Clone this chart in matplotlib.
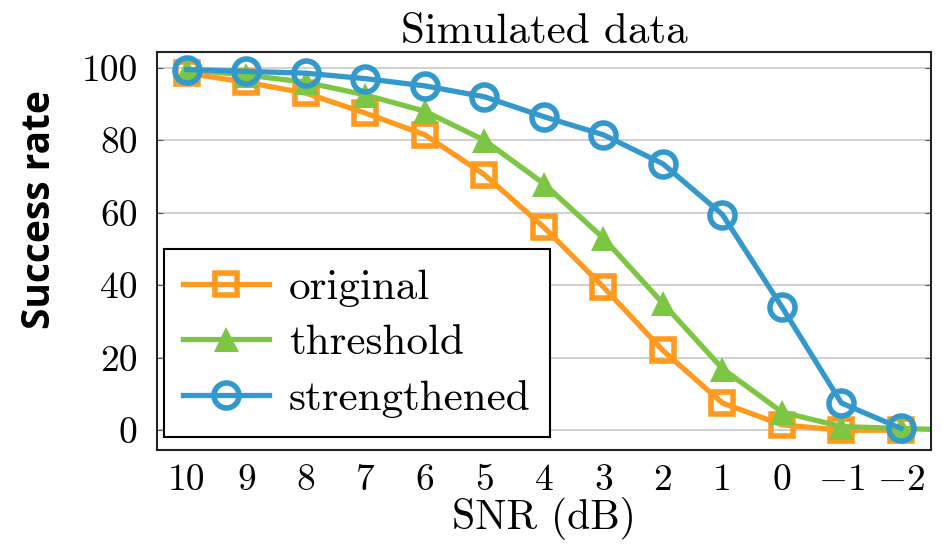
import matplotlib
matplotlib.use("Agg")
import matplotlib.pyplot as plt

# data
snr = [10, 9, 8, 7, 6, 5, 4, 3, 2, 1, 0, -1, -2]
snr_threshold = [10, 9, 8, 7, 6, 5, 4, 3, 2, 1, 0, -1, -2, -3]
original = [98.5, 96, 93, 87.5, 81.5, 70.5, 56, 39.5, 22, 7.5, 1.5, 0, 0]
threshold = [99.5, 98, 96, 92.5, 88, 80, 68, 53, 35, 17, 5, 1, 0.5, 0]
strengthened = [99.5, 99, 98.5, 97, 95, 92, 86.5, 81.5, 73.5, 59.5, 34, 7.5, 0.5]
y_ticks = [0, 20, 40, 60, 80, 100]

plt.rcParams['font.family'] = 'serif'
plt.rcParams['font.serif'] = ['cmr10']
plt.rcParams['mathtext.fontset'] = 'cm'
plt.rcParams['axes.unicode_minus'] = True

fig = plt.figure(figsize=(9.43, 5.51), dpi=100)
ax = fig.add_axes([0.1665, 0.183, 0.8205, 0.723])

orange = '#ff9a1e'
green = '#7cc644'
blue = '#3399cc'

ax.plot(snr, original, color=orange, lw=3.8, marker='s', ms=16, mew=4,
        mfc='none', mec=orange, label='original')
ax.plot(snr_threshold, threshold, color=green, lw=3.8, marker='^', ms=18,
        mew=0, mfc=green, label='threshold')
ax.plot(snr, strengthened, color=blue, lw=3.8, marker='o', ms=18, mew=4,
        mfc='none', mec=blue, label='strengthened')

ax.set_xlim(10.5, -2.5)
ax.set_ylim(-5.5, 104.4)
ax.set_xticks(snr)
ax.set_xticklabels(['$%d$' % v if v < 0 else str(v) for v in snr])
ax.set_yticks(y_ticks)
ax.set_yticklabels([str(v) for v in y_ticks])
ax.tick_params(axis='both', labelsize=27, direction='in', length=4,
               top=False, right=True, color='#555555')
ax.tick_params(axis='x', length=0, pad=10)
ax.tick_params(axis='y', pad=14)
ax.grid(axis='y', color='#c8c8c8', lw=1.2)
ax.set_axisbelow(True)
for s in ax.spines.values():
    s.set_color('#222222')
    s.set_linewidth(1.5)

ax.set_title('Simulated data', fontsize=31, pad=6)
ax.set_xlabel('SNR (dB)', fontsize=30, labelpad=0)
fig.text(0.042, 0.619, 'Success rate', rotation=90, ha='center', va='center',
         fontsize=28, fontweight='bold', family='Open Sans')

leg = ax.legend(loc='lower left', bbox_to_anchor=(0.009, 0.033),
                borderaxespad=0, fontsize=31, handlelength=2.0,
                fancybox=False, framealpha=1, edgecolor='black',
                labelspacing=0.4, borderpad=0.45, handletextpad=0.45)
leg.get_frame().set_linewidth(1.5)

fig.savefig('out.png', dpi=100)
